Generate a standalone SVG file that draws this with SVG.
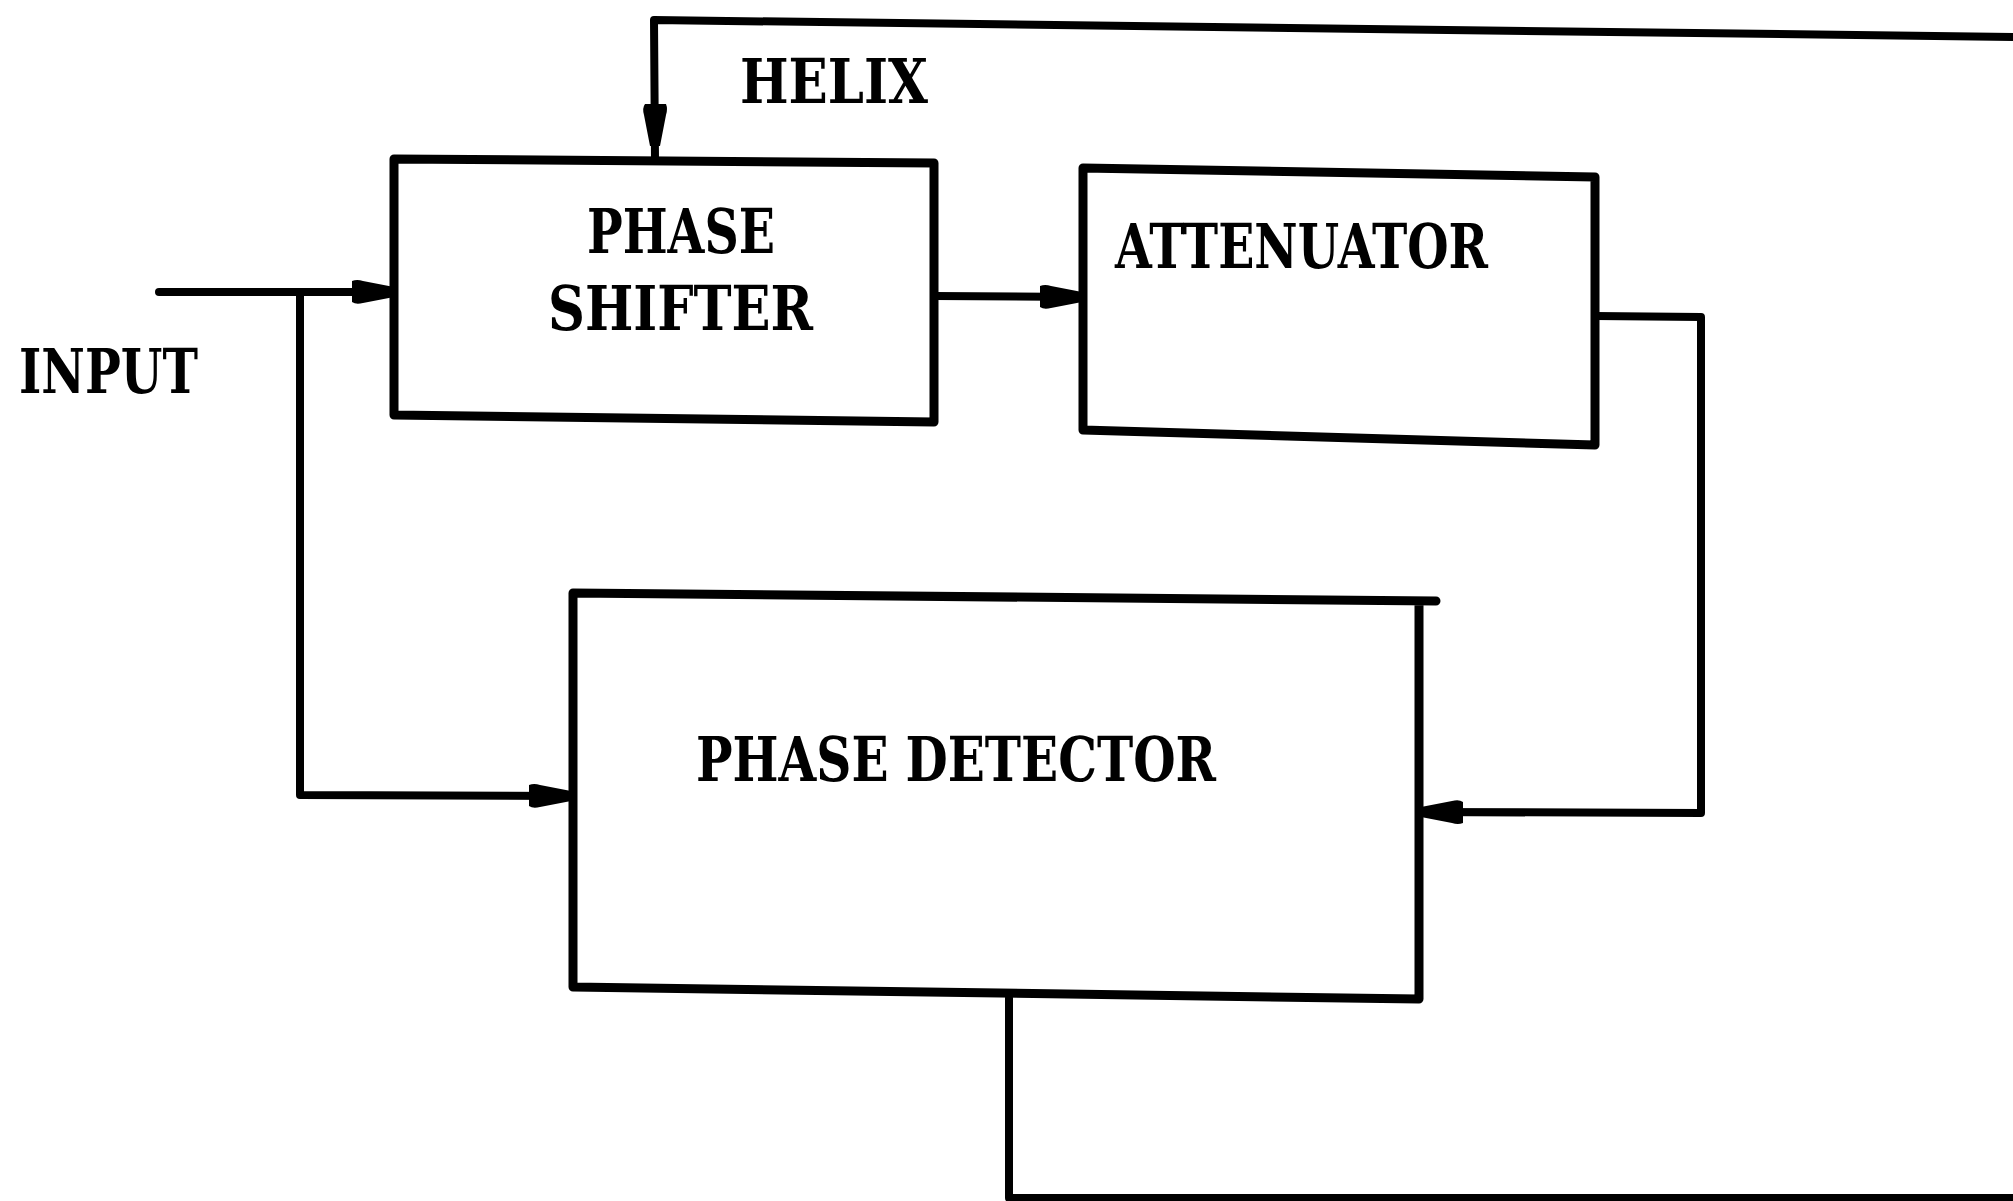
<svg xmlns="http://www.w3.org/2000/svg" width="2013" height="1201" viewBox="0 0 2013 1201">
<style>
.bx{fill:none;stroke:#000;stroke-width:9;stroke-linejoin:round;stroke-linecap:round}
.ln{fill:none;stroke:#000;stroke-width:8;stroke-linejoin:round;stroke-linecap:round}
.t{font-family:"DejaVu Serif","Liberation Serif",serif;font-weight:bold;font-size:62px;fill:#000}
</style>
<defs>
<path id="ah" d="M-42,-11 Q-37,-13 -31,-11 L0,-5 L0,5 L-31,11 Q-38,13 -42,10 Z" fill="#000"/>
</defs>
<rect width="2013" height="1201" fill="#fff"/>
<g id="connectors">
<path class="ln" d="M159,292 L392,292"/>
<use href="#ah" transform="translate(394,292)"/>
<path class="ln" d="M300,292 L300,795 L571,796"/>
<use href="#ah" transform="translate(571,796)"/>
<path class="ln" d="M2013,37 L654,20 L655,160"/>
<use href="#ah" transform="translate(655,146) rotate(90)"/>
<path class="ln" d="M934,296 L1082,297"/>
<use href="#ah" transform="translate(1082,297)"/>
<path class="ln" d="M1595,316 L1701,317 L1701,813 L1421,812"/>
<use href="#ah" transform="translate(1421,812) rotate(180)"/>
<path class="ln" d="M1009,998 L1009,1198 L2013,1198"/>
</g>
<g id="helix-label">
<text class="t" x="740" y="103" textLength="188" lengthAdjust="spacingAndGlyphs">HELIX</text>
</g>
<g id="input-label">
<text class="t" x="19" y="393" textLength="179" lengthAdjust="spacingAndGlyphs">INPUT</text>
</g>
<g id="phase-shifter">
<path class="bx" d="M394,159 L934,163 L934,422 L394,415 Z"/>
<text class="t" x="587" y="253" textLength="188" lengthAdjust="spacingAndGlyphs">PHASE</text>
<text class="t" x="548" y="330" textLength="265" lengthAdjust="spacingAndGlyphs">SHIFTER</text>
</g>
<g id="attenuator">
<path class="bx" d="M1083,168 L1595,177 L1595,445 L1083,430 Z"/>
<text class="t" x="1115" y="268" textLength="373" lengthAdjust="spacingAndGlyphs">ATTENUATOR</text>
</g>
<g id="phase-detector">
<path class="bx" d="M1436,601 L573,593 L573,987 L1419,999 L1419,601"/>
<text class="t" x="696" y="781" textLength="520" lengthAdjust="spacingAndGlyphs">PHASE DETECTOR</text>
</g>
</svg>
